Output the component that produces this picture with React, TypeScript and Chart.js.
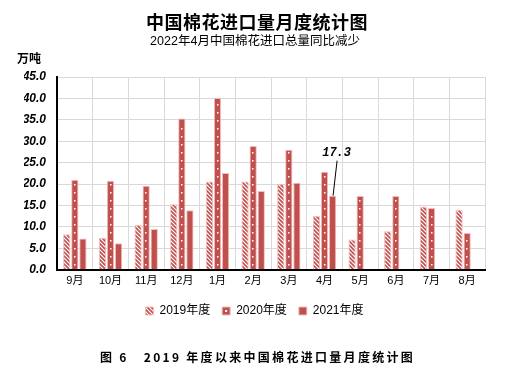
import React, { useEffect, useRef } from "react";
import { Chart, registerables } from "chart.js";

Chart.register(...registerables);

const categories = ["9月", "10月", "11月", "12月", "1月", "2月", "3月", "4月", "5月", "6月", "7月", "8月"];
const series2019 = [8.3, 7.4, 10.5, 15.3, 20.6, 20.6, 20.0, 12.6, 7.1, 9.0, 14.8, 14.0];
const series2020 = [21.0, 20.8, 19.6, 35.3, 40.1, 28.9, 28.0, 22.9, 17.2, 17.2, 14.4, 8.6];
const series2021 = [7.3, 6.2, 9.5, 13.9, 22.6, 18.4, 20.3, 17.3, null, null, null, null];
const seriesNames = ["2019年度", "2020年度", "2021年度"];
const yMin = 0;
const yMax = 45;
const yStep = 5;
const titleText = "中国棉花进口量月度统计图";
const subtitleText = "2022年4月中国棉花进口总量同比减少";
const unitText = "万吨";
const captionText = "图 6   2019 年度以来中国棉花进口量月度统计图";
const annotatedSeries = 2;
const annotatedIndex = 7;

const RED = "#C0504D";
const BORDER = "#F0BDBC";
const CJK = "'Noto Sans CJK SC'";
const SANS = "'Liberation Sans', 'Noto Sans CJK SC'";

export default function App() {
  const ref = useRef<HTMLCanvasElement | null>(null);

  useEffect(() => {
    document.body.style.margin = "0";
    const canvas = ref.current!;
    const ctx = canvas.getContext("2d")!;

    const tile = document.createElement("canvas");
    tile.width = 4;
    tile.height = 4;
    const tg = tile.getContext("2d")!;
    tg.fillStyle = "#ffffff";
    tg.fillRect(0, 0, 4, 4);
    tg.strokeStyle = RED;
    tg.lineWidth = 1.6;
    tg.beginPath();
    tg.moveTo(-1, -1);
    tg.lineTo(5, 5);
    tg.moveTo(-1, 3);
    tg.lineTo(1, 5);
    tg.moveTo(3, -1);
    tg.lineTo(5, 1);
    tg.stroke();
    const hatch = ctx.createPattern(tile, "repeat")!;

    const decor = {
      id: "decor",
      afterDatasetsDraw(chart: any) {
        const c = chart.ctx;
        const meta = chart.getDatasetMeta(1);
        c.save();
        c.fillStyle = "#ffffff";
        meta.data.forEach((bar: any) => {
          for (let y = bar.base - 5; y > bar.y + 2; y -= 8) {
            c.fillRect(Math.round(bar.x) - 1, Math.round(y), 1.5, 1.5);
          }
        });
        const ab = chart.getDatasetMeta(annotatedSeries).data[annotatedIndex];
        const v = (chart.data.datasets[annotatedSeries].data as any[])[annotatedIndex];
        c.strokeStyle = "#000";
        c.lineWidth = 1;
        c.beginPath();
        c.moveTo(ab.x + 4.5, ab.y - 35);
        c.lineTo(ab.x + 0.5, ab.y);
        c.stroke();
        c.fillStyle = "#000";
        c.font = "italic bold 12px 'Liberation Mono'";
        c.textAlign = "center";
        c.textBaseline = "middle";
        c.fillText(v.toFixed(1), ab.x + 4, ab.y - 43);
        c.restore();
      },
      afterDraw(chart: any) {
        const c = chart.ctx;
        c.save();
        c.fillStyle = "#000";
        c.textAlign = "center";
        c.textBaseline = "middle";
        c.font = `bold 18px ${CJK}`;
        (c as any).letterSpacing = "0.5px";
        c.fillText(titleText, 257, 22);
        (c as any).letterSpacing = "0px";
        c.font = `12.5px ${SANS}`;
        c.fillText(subtitleText, 255, 42);
        c.font = `bold 12px ${CJK}`;
        c.textAlign = "left";
        c.fillText(unitText, 17, 58);
        (c as any).letterSpacing = "2.3px";
        c.font = `bold 12px ${CJK}`;
        c.fillText(captionText, 100, 357);
        (c as any).letterSpacing = "0px";
        const lg = chart.legend;
        if (lg && lg.legendHitBoxes && lg.legendHitBoxes[1]) {
          const hb = lg.legendHitBoxes[1];
          c.fillStyle = "#fff";
          c.fillRect(hb.left + 3, hb.top + hb.height / 2 - 1, 2, 2);
        }
        c.restore();
      },
    };

    const chart = new Chart(canvas, {
      type: "bar",
      data: {
        labels: categories,
        datasets: [
          { label: seriesNames[0], data: series2019, backgroundColor: hatch, borderColor: BORDER, borderWidth: 1 },
          { label: seriesNames[1], data: series2020, backgroundColor: RED, borderColor: BORDER, borderWidth: 1 },
          { label: seriesNames[2], data: series2021 as any, backgroundColor: RED, borderColor: BORDER, borderWidth: 1 },
        ],
      },
      options: {
        responsive: false,
        animation: false,
        devicePixelRatio: 1,
        layout: { padding: { left: 24, right: 44, top: 77, bottom: 48 } },
        datasets: { bar: { categoryPercentage: 0.68, barPercentage: 0.9 } },
        scales: {
          x: {
            grid: { color: "#d9d9d9", drawTicks: false },
            border: { color: "#000", width: 2 },
            ticks: { color: "#000", font: { family: SANS, size: 11 }, padding: 5 },
          },
          y: {
            min: yMin,
            max: yMax,
            afterFit: (scale: any) => {
              scale.width = 33;
            },
            grid: { color: "#d9d9d9", drawTicks: false },
            border: { color: "#000", width: 2 },
            ticks: {
              stepSize: yStep,
              color: "#000",
              padding: 11,
              font: { family: "'Liberation Sans'", size: 12, weight: "bold", style: "italic" },
              callback: (v: any) => Number(v).toFixed(1),
            },
          },
        },
        plugins: {
          legend: {
            position: "bottom",
            labels: { boxWidth: 8, boxHeight: 8, color: "#000", padding: 12, font: { family: SANS, size: 12 } },
          },
          tooltip: { enabled: false },
        },
      },
      plugins: [decor],
    });
    return () => chart.destroy();
  }, []);

  return (
    <div style={{ position: "absolute", left: 0, top: 0, width: 529, height: 375 }}>
      <canvas ref={ref} width={529} height={375} style={{ width: 529, height: 375 }} />
    </div>
  );
}
